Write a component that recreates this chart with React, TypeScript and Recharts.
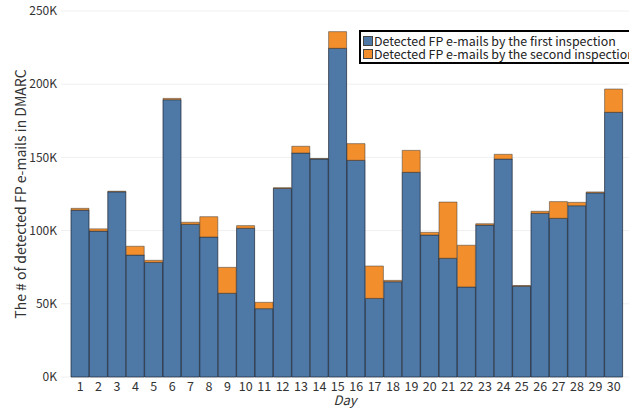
import React from 'react';
import { BarChart, Bar, XAxis, YAxis, CartesianGrid, Legend } from 'recharts';

const days = ['1','2','3','4','5','6','7','8','9','10','11','12','13','14','15','16','17','18','19','20','21','22','23','24','25','26','27','28','29','30'];
const firstInspection = [114, 99.7, 126.5, 83.3, 78.3, 189.4, 104.3, 95.6, 57.2, 101.6, 46.7, 128.8, 153, 148.9, 224.5, 148, 53.7, 65.1, 139.8, 97, 81.1, 61.5, 103.8, 148.9, 62, 111.8, 108.4, 117, 125.8, 180.8];
const secondInspection = [1.2, 1.5, 0.4, 6, 1.4, 0.9, 1.4, 13.9, 17.7, 1.8, 4.3, 0.5, 4.6, 0.3, 11.4, 11.4, 22.1, 0.9, 15, 1.8, 38.4, 28.5, 0.9, 3.2, 0.5, 1.4, 11.4, 2.3, 0.6, 15.9];
const yTicks = [0, 50, 100, 150, 200, 250];
const seriesNames = ['Detected FP e-mails by the first inspection', 'Detected FP e-mails by the second inspection'];
const colors = ['#4e79a7', '#f28e2b'];

const data = days.map((d, i) => ({ day: d, first: firstInspection[i], second: secondInspection[i] }));

const FONT = '"Noto Sans CJK JP", "Noto Sans", sans-serif';

const LegendBox = () => (
  <div style={{ border: '2px solid #000', padding: '3px 2px 2px 2px', background: '#fff', whiteSpace: 'nowrap', fontFamily: FONT, fontSize: 12.4, lineHeight: '12.5px', color: '#222' }}>
    {seriesNames.map((n, i) => (
      <div key={n} style={{ display: 'flex', alignItems: 'center', height: 12.5 }}>
        <span style={{ display: 'inline-block', width: 8, height: 8, background: colors[i], border: '1px solid #444', marginRight: 1 }} />
        <span>{n}</span>
      </div>
    ))}
  </div>
);

const YLabel = (props: any) => {
  const vb = props.viewBox || {};
  const cx = vb.x + 20;
  const cy = vb.y + vb.height / 2;
  return (
    <text x={cx} y={cy} transform={`rotate(-90, ${cx}, ${cy})`} textAnchor="middle" dominantBaseline="central" fontSize={14} fill="#333" fontFamily={FONT}>
      The # of detected FP e-mails in DMARC
    </text>
  );
};

export default function App() {
  return (
    <div style={{ position: 'absolute', left: 0, top: 0, width: 629, height: 409, overflow: 'hidden', background: '#fff' }}>
      <BarChart width={629} height={409} data={data} margin={{ top: 11, right: 0, bottom: 1, left: 0 }} barCategoryGap={0}>
        <CartesianGrid vertical={false} stroke="#f0f0f0" />
        <XAxis dataKey="day" height={31} tickLine={false} axisLine={false} tickSize={0} tickMargin={5} padding={{ left: 10, right: 6 }} interval={0}
          tick={{ fontSize: 12.5, fill: '#333', fontFamily: FONT }}
          label={{ value: 'Day', position: 'insideBottom', offset: 3, fontSize: 13, fill: '#333', fontStyle: 'italic', fontFamily: FONT }} />
        <YAxis width={61} domain={[0, 250]} ticks={yTicks} tickFormatter={(v: number) => `${v}K`} tickLine={false} axisLine={false} tickSize={0} tickMargin={4}
          tick={{ fontSize: 12, fill: '#333', fontFamily: FONT }} label={<YLabel />} />
        <Legend content={<LegendBox />} layout="horizontal" verticalAlign="middle" align="center" wrapperStyle={{ left: 359, top: 30, width: 'auto' }} />
        <Bar dataKey="first" name={seriesNames[0]} stackId="a" fill={colors[0]} stroke="#1a2230" strokeOpacity={0.7} strokeWidth={1} isAnimationActive={false} />
        <Bar dataKey="second" name={seriesNames[1]} stackId="a" fill={colors[1]} stroke="#3a3a3a" strokeOpacity={0.5} strokeWidth={1} isAnimationActive={false} />
      </BarChart>
    </div>
  );
}
